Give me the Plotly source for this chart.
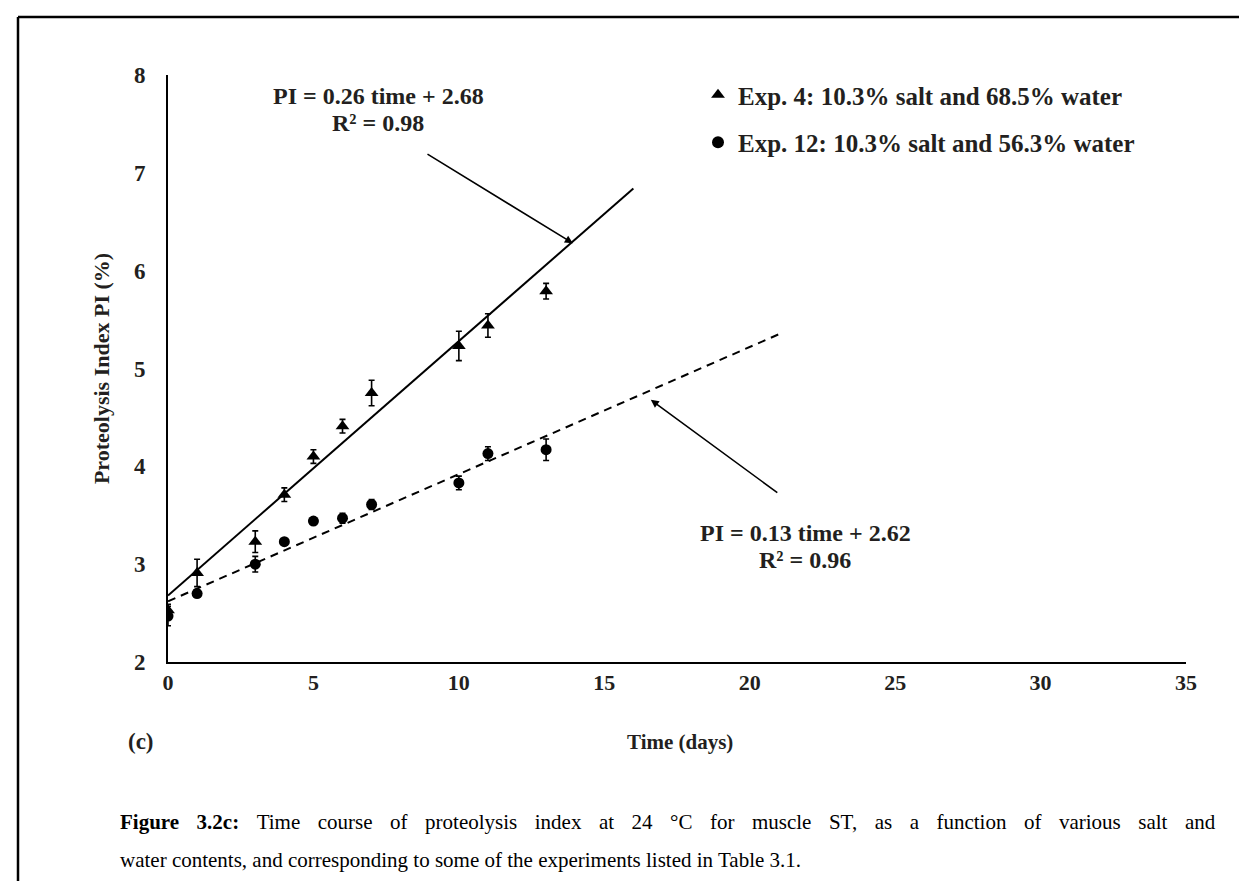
import plotly.graph_objects as go

# ---------------- data ----------------
time_days = [0, 1, 3, 4, 5, 6, 7, 10, 11, 13]
pi_exp4 = [2.53, 2.91, 3.23, 3.71, 4.10, 4.41, 4.75, 5.23, 5.44, 5.79]
err_exp4 = [0.06, 0.14, 0.11, 0.07, 0.07, 0.07, 0.13, 0.15, 0.12, 0.08]
pi_exp12 = [2.47, 2.70, 3.00, 3.23, 3.44, 3.47, 3.61, 3.83, 4.13, 4.17]
err_exp12 = [0.10, 0.03, 0.08, 0.03, 0.03, 0.05, 0.05, 0.07, 0.07, 0.11]

slope4, intercept4, r2_4 = 0.26, 2.68, 0.98
slope12, intercept12, r2_12 = 0.13, 2.62, 0.96
trend4_x = [0, 16]
trend12_x = [0, 21]

name4 = "Exp. 4: 10.3% salt and 68.5% water"
name12 = "Exp. 12: 10.3% salt and 56.3% water"
x_ticks = [0, 5, 10, 15, 20, 25, 30, 35]
y_ticks = [2, 3, 4, 5, 6, 7, 8]

caption_bold = "Figure 3.2c:"
caption_line1 = ("Time course of proteolysis index at 24 °C for muscle ST, "
                 "as a function of various salt and")
caption_line2 = ("water contents, and corresponding to some of the experiments "
                 "listed in Table 3.1.")

# ---------------- layout geometry ----------------
W, H = 1247, 881
PL, PR, PT, PB = 160, 1178, 67, 654   # plot area in pixels
FONT = "Liberation Serif, Times New Roman, serif"
TXT = "#231f20"


def px(xp):
    return (xp - PL) / (PR - PL)


def py(yp):
    return (PB - yp) / (PB - PT)


GAP = " \u2002\u200a"


def justify(s):
    # widen word gaps to imitate the justified first caption line
    return s.replace(" ", GAP)


fig = go.Figure()

# trend lines
fig.add_trace(go.Scatter(
    x=trend4_x, y=[intercept4 + slope4 * t for t in trend4_x],
    mode="lines", line=dict(color="black", width=2), showlegend=False,
    hoverinfo="skip"))
fig.add_trace(go.Scatter(
    x=trend12_x, y=[intercept12 + slope12 * t for t in trend12_x],
    mode="lines", line=dict(color="black", width=2, dash="8px,6px"),
    showlegend=False, hoverinfo="skip"))

# data
fig.add_trace(go.Scatter(
    x=time_days, y=pi_exp4, mode="markers", name="<b>" + name4 + "</b>",
    legendgroup="a",
    marker=dict(symbol="triangle-up", size=12, color="black"),
    error_y=dict(type="data", array=err_exp4, color="black",
                 thickness=1.6, width=3)))
fig.add_trace(go.Scatter(
    x=time_days, y=pi_exp12, mode="markers", name="<b>" + name12 + "</b>",
    legendgroup="b",
    marker=dict(symbol="circle", size=11, color="black"),
    error_y=dict(type="data", array=err_exp12, color="black",
                 thickness=1.6, width=3)))

annotations = []
# equations
eq_font = dict(family=FONT, size=24, color=TXT)
for cx, y1, y2, s, b, r2 in [(370, 88, 115, slope4, intercept4, r2_4),
                             (797, 525, 552, slope12, intercept12, r2_12)]:
    annotations += [
        dict(x=px(cx), y=py(y1), xref="paper", yref="paper", showarrow=False,
             xanchor="center", yanchor="middle",
             text=f"<b>PI = {s:.2f} time + {b:.2f}</b>", font=eq_font),
        dict(x=px(cx), y=py(y2), xref="paper", yref="paper", showarrow=False,
             xanchor="center", yanchor="middle",
             text=f"<b>R² = {r2:.2f}</b>", font=eq_font),
    ]
# arrows
annotations += [
    dict(x=13.92, y=6.28, ax=8.87, ay=7.20, xref="x", yref="y",
         axref="x", ayref="y", showarrow=True, arrowhead=2, arrowsize=1,
         arrowwidth=1.6, arrowcolor="black", text=""),
    dict(x=16.6, y=4.68, ax=21.0, ay=3.72, xref="x", yref="y",
         axref="x", ayref="y", showarrow=True, arrowhead=2, arrowsize=1,
         arrowwidth=1.6, arrowcolor="black", text=""),
]
# panel label and axis title
annotations += [
    dict(x=px(133), y=py(733), xref="paper", yref="paper", showarrow=False,
         xanchor="center", yanchor="middle",
         text="<b>(c)</b>", font=dict(family=FONT, size=23, color=TXT)),
    dict(x=px(672), y=py(734), xref="paper", yref="paper", showarrow=False,
         xanchor="center", yanchor="middle",
         text="<b>Time (days)</b>", font=dict(family=FONT, size=21, color=TXT)),
]
# caption
cap_font = dict(family=FONT, size=21, color="black")
annotations += [
    dict(x=px(110), y=py(814), xref="paper", yref="paper", showarrow=False,
         xanchor="left", yanchor="middle",
         text="<b>" + justify(caption_bold) + "</b>" + GAP + justify(caption_line1),
         font=cap_font),
    dict(x=px(110), y=py(852), xref="paper", yref="paper", showarrow=False,
         xanchor="left", yanchor="middle",
         text=caption_line2, font=cap_font),
]

shapes = [
    # outer frame (left and top edges)
    dict(type="line", xref="paper", yref="paper", x0=px(10), x1=px(1260),
         y0=py(9), y1=py(9), line=dict(color="black", width=2.5)),
    dict(type="line", xref="paper", yref="paper", x0=px(10), x1=px(10),
         y0=py(9), y1=py(900), line=dict(color="black", width=2.5)),
]

fig.update_layout(
    width=W, height=H, autosize=False,
    margin=dict(l=PL, r=W - PR, t=PT, b=H - PB),
    paper_bgcolor="white", plot_bgcolor="white",
    font=dict(family=FONT, color=TXT),
    annotations=annotations, shapes=shapes,
    legend=dict(x=px(690), y=py(64), xanchor="left", yanchor="top",
                bgcolor="rgba(0,0,0,0)", traceorder="grouped",
                tracegroupgap=12, itemsizing="constant",
                font=dict(family=FONT, size=25, color=TXT)),
    showlegend=True,
)
fig.update_xaxes(
    range=[0, 35], tickvals=x_ticks, ticktext=[f"<b>{v}</b>" for v in x_ticks],
    showline=True, linecolor="black", linewidth=2, showgrid=False,
    zeroline=False, ticks="", tickfont=dict(family=FONT, size=22, color=TXT),
    ticklabelstandoff=0,
)
fig.update_yaxes(
    range=[2, 8], tickvals=y_ticks, ticktext=[f"<b>{v}</b>" for v in y_ticks],
    showline=True, linecolor="black", linewidth=2, showgrid=False,
    zeroline=False, ticks="", tickfont=dict(family=FONT, size=23, color=TXT),
    ticklabelstandoff=16,
    title=dict(text="<b>Proteolysis Index PI (%)</b>", standoff=18,
               font=dict(family=FONT, size=22, color=TXT)),
)

fig.write_html("out.html")
